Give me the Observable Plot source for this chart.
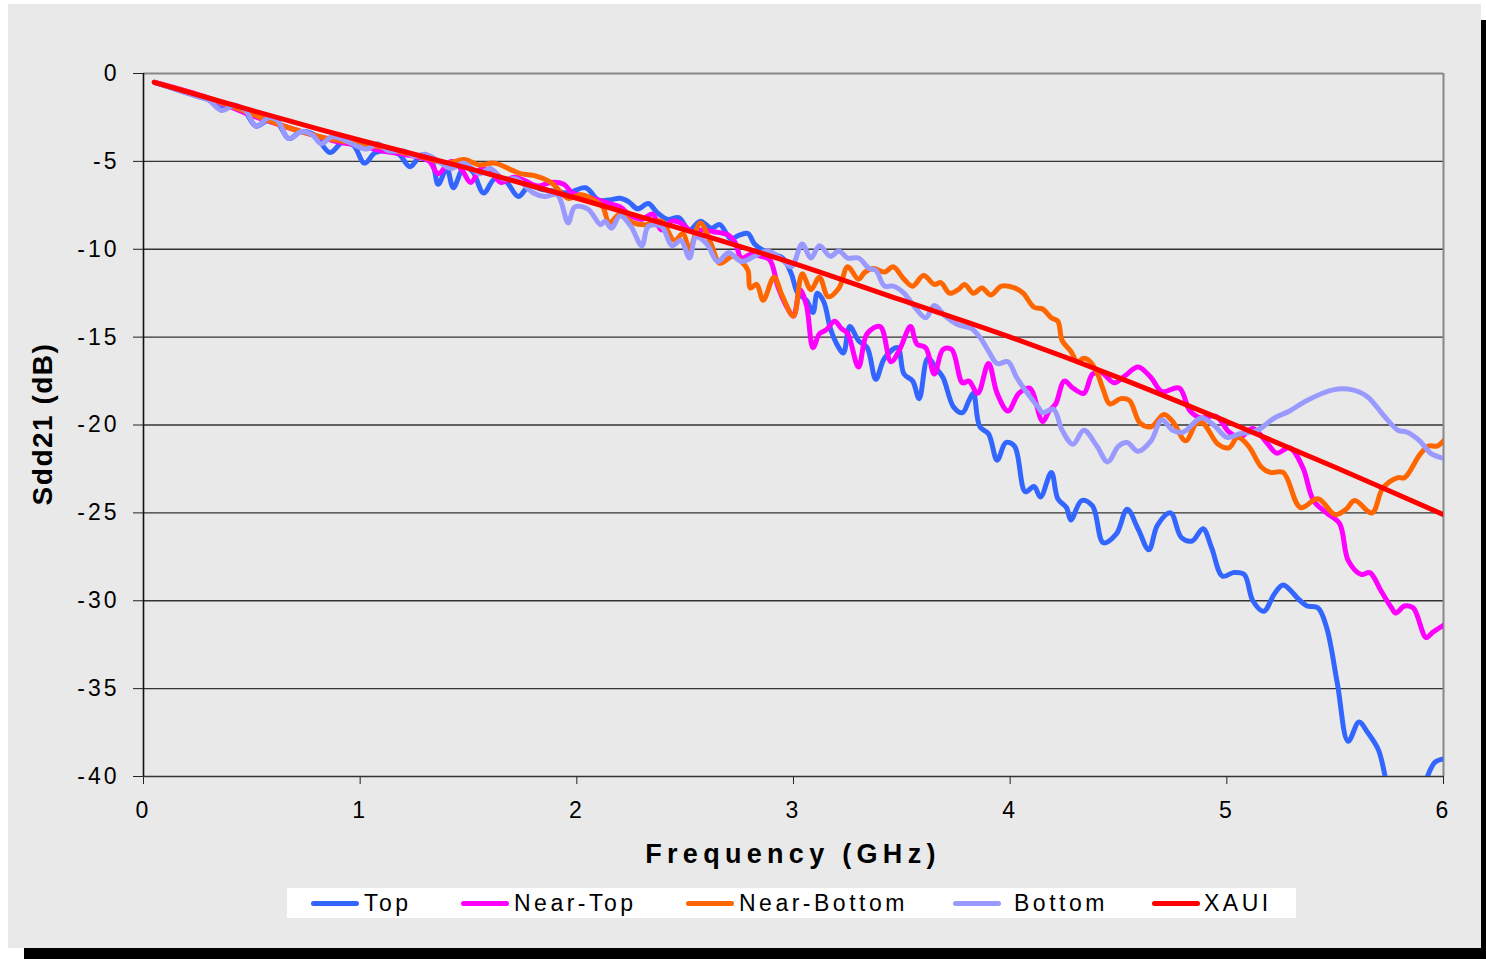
<!DOCTYPE html>
<html><head><meta charset="utf-8">
<script src="https://cdn.jsdelivr.net/npm/d3@7"></script>
<script src="https://cdn.jsdelivr.net/npm/@observablehq/plot@0.6"></script>
<style>
html,body{margin:0;padding:0;background:#fff;width:1486px;height:959px;overflow:hidden;font-family:"Liberation Sans",Arial,sans-serif;}
#panel{position:absolute;left:8px;top:4px;width:1473px;height:944px;background:#e9e9e9;}
#shR{position:absolute;left:1481px;top:20px;width:5px;height:939px;background:#000;}
#shB{position:absolute;left:24px;top:948px;width:1462px;height:11px;background:#000;}
#chart{position:absolute;left:0;top:0;}
#chart svg text{letter-spacing:3px;}
#xtitle{position:absolute;left:493px;width:600px;top:841px;text-align:center;font-weight:bold;font-size:27px;line-height:1;letter-spacing:5.3px;color:#000;}
#ytitle{position:absolute;left:-157px;width:400px;top:410px;height:28px;text-align:center;font-weight:bold;font-size:28px;line-height:1;letter-spacing:1.5px;transform:rotate(-90deg);transform-origin:200px 14px;color:#000;}
#legend{position:absolute;left:287px;top:888px;width:1009px;height:30px;background:#fff;}
.sw{position:absolute;height:5px;border-radius:3px;top:901px;}
.lt{position:absolute;top:892px;font-size:23px;line-height:1;letter-spacing:3.5px;color:#000;white-space:nowrap;}
</style>
</head><body>
<div id="shR"></div><div id="shB"></div>
<div id="panel"></div>
<div id="chart"></div>
<div id="xtitle">Frequency (GHz)</div>
<div id="ytitle">Sdd21 (dB)</div>
<div id="legend"></div>
<div id="legItems"></div>
<script>
// ---- Data ----
const seriesNames = ["Top", "Near-Top", "Near-Bottom", "Bottom", "XAUI"];
const seriesColors = ["#3366ff", "#ff00ff", "#ff6600", "#9999ff", "#ff0000"];
const xTicks = [0, 1, 2, 3, 4, 5, 6];
const yTicks = [0, -5, -10, -15, -20, -25, -30, -35, -40];
const gridTicks = [-5, -10, -15, -20, -25, -30, -35];

const topF = [0.05,0.15,0.25,0.3,0.36,0.42,0.47,0.52,0.58,0.62,0.67,0.73,0.79,0.86,0.92,0.97,1.02,1.07,1.13,1.18,1.23,1.28,1.33,1.36,1.40,1.43,1.48,1.52,1.57,1.62,1.67,1.73,1.78,1.84,1.90,1.96,2.04,2.10,2.15,2.2,2.24,2.28,2.33,2.37,2.42,2.47,2.52,2.57,2.62,2.66,2.71,2.75,2.79,2.82,2.88,2.95,2.99,3.02,3.06,3.09,3.11,3.14,3.17,3.20,3.23,3.26,3.30,3.34,3.38,3.42,3.48,3.51,3.55,3.58,3.62,3.66,3.69,3.74,3.78,3.81,3.83,3.86,3.90,3.94,3.98,4.02,4.07,4.11,4.14,4.19,4.22,4.26,4.28,4.33,4.38,4.43,4.49,4.54,4.59,4.64,4.68,4.74,4.79,4.84,4.89,4.93,4.98,5.03,5.08,5.12,5.17,5.22,5.26,5.33,5.37,5.42,5.46,5.51,5.56,5.61,5.65,5.70,5.74,5.80,5.86,5.92,5.96,6.0];
const topDb = [-0.5,-0.9,-1.3,-1.5,-2.0,-1.8,-2.2,-3.0,-2.6,-2.8,-3.7,-3.3,-3.5,-4.5,-3.9,-4.1,-5.1,-4.5,-4.4,-4.6,-5.3,-4.7,-5.0,-6.3,-5.4,-6.5,-5.3,-5.6,-6.8,-6.0,-6.1,-7.0,-6.4,-6.6,-6.7,-6.8,-6.5,-7.2,-7.2,-7.1,-7.3,-7.7,-7.4,-7.9,-8.3,-8.2,-8.9,-8.4,-8.8,-8.6,-9.4,-9.2,-9.1,-9.7,-10.2,-10.5,-11.4,-12.5,-12.9,-13.6,-12.5,-13.0,-14.5,-15.4,-15.9,-14.4,-15.2,-15.6,-17.4,-16.2,-15.6,-17.1,-17.5,-18.5,-16.2,-16.8,-17.3,-19.0,-19.3,-18.6,-18.2,-20.1,-20.5,-22.0,-21.0,-21.2,-23.8,-23.5,-24.1,-22.7,-24.2,-24.7,-25.4,-24.3,-24.6,-26.7,-26.2,-24.8,-25.9,-27.1,-25.7,-25.0,-26.4,-26.6,-25.9,-27.0,-28.6,-28.4,-28.5,-30.0,-30.6,-29.6,-29.1,-29.9,-30.3,-30.4,-31.5,-34.7,-38.0,-36.9,-37.5,-38.5,-40.5,-43,-43,-40.2,-39.2,-39.0];

const nearTopF = [0.05,0.3,0.5,0.7,0.9,1.0,1.1,1.2,1.28,1.32,1.36,1.42,1.47,1.51,1.56,1.61,1.65,1.71,1.76,1.82,1.88,1.94,1.98,2.04,2.1,2.15,2.2,2.25,2.30,2.35,2.39,2.44,2.48,2.53,2.58,2.63,2.7,2.73,2.76,2.8,2.85,2.89,2.93,2.97,3.0,3.03,3.06,3.09,3.12,3.15,3.19,3.22,3.25,3.30,3.34,3.40,3.45,3.49,3.54,3.57,3.61,3.65,3.69,3.73,3.78,3.81,3.85,3.90,3.94,3.99,4.04,4.09,4.15,4.18,4.21,4.25,4.29,4.34,4.38,4.42,4.48,4.53,4.59,4.65,4.70,4.78,4.83,4.88,4.95,5.01,5.06,5.12,5.19,5.23,5.29,5.35,5.40,5.46,5.52,5.56,5.62,5.66,5.71,5.76,5.78,5.82,5.86,5.92,5.95,6.0];
const nearTopDb = [-0.5,-1.4,-2.4,-3.2,-3.9,-4.1,-4.4,-4.6,-4.8,-5.0,-5.7,-5.0,-5.5,-6.2,-5.4,-5.7,-6.2,-5.9,-6.1,-6.4,-6.2,-6.3,-6.8,-7.0,-7.2,-7.4,-7.6,-8.1,-8.3,-8.0,-8.9,-8.4,-8.5,-9.0,-8.9,-9.0,-9.2,-9.6,-10.5,-10.3,-10.4,-10.6,-12.2,-13.3,-13.8,-12.3,-13.2,-15.6,-14.8,-14.6,-14.1,-14.5,-14.8,-16.7,-14.8,-14.4,-16.4,-15.7,-14.4,-15.4,-15.6,-17.1,-15.7,-15.7,-17.6,-17.5,-18.2,-16.5,-18.2,-19.2,-18.2,-17.9,-19.8,-19.2,-18.8,-17.5,-17.9,-18.2,-17.1,-17.0,-17.6,-17.2,-16.7,-17.3,-18.1,-17.9,-19.2,-19.6,-19.5,-20.4,-20.7,-20.2,-21.1,-21.6,-21.3,-22.4,-24.3,-25.0,-25.6,-27.7,-28.5,-28.4,-29.4,-30.4,-30.7,-30.3,-30.4,-32.1,-31.8,-31.4];

const nearBottomF = [0.05,0.3,0.5,0.58,0.7,0.85,1.0,1.1,1.2,1.3,1.4,1.48,1.55,1.62,1.7,1.74,1.8,1.88,1.96,2.02,2.08,2.12,2.15,2.2,2.26,2.32,2.39,2.45,2.49,2.52,2.57,2.62,2.66,2.72,2.76,2.79,2.80,2.83,2.86,2.91,2.95,3.0,3.04,3.08,3.12,3.16,3.21,3.25,3.30,3.33,3.37,3.42,3.46,3.51,3.55,3.60,3.65,3.68,3.72,3.76,3.79,3.83,3.87,3.91,3.96,4.02,4.06,4.11,4.15,4.19,4.22,4.24,4.28,4.31,4.34,4.37,4.40,4.43,4.46,4.51,4.55,4.60,4.65,4.71,4.75,4.81,4.86,4.89,4.96,5.01,5.05,5.10,5.16,5.20,5.26,5.34,5.42,5.50,5.55,5.59,5.67,5.72,5.79,5.82,5.89,5.93,5.97,6.0];
const nearBottomDb = [-0.5,-1.4,-2.3,-2.7,-3.2,-3.7,-4.0,-4.2,-4.5,-4.8,-5.1,-4.9,-5.2,-5.1,-5.5,-5.7,-5.8,-6.2,-7.1,-6.9,-7.2,-7.6,-8.5,-8.0,-8.5,-8.6,-8.4,-9.5,-9.1,-10.0,-8.5,-9.7,-10.8,-10.4,-10.7,-11.2,-12.2,-12.0,-12.9,-11.6,-12.7,-13.8,-11.4,-12.3,-11.6,-12.7,-12.2,-11.0,-11.7,-11.3,-11.1,-11.3,-11.0,-11.7,-12.1,-11.5,-12.0,-11.9,-12.5,-12.3,-12.0,-12.5,-12.2,-12.6,-12.1,-12.2,-12.5,-13.3,-13.4,-13.9,-14.1,-15.2,-15.8,-16.4,-16.2,-16.4,-17.0,-18.0,-18.8,-18.5,-18.6,-19.9,-20.1,-19.4,-19.8,-20.9,-19.9,-19.9,-21.1,-21.3,-20.7,-21.2,-22.4,-22.7,-22.7,-24.7,-24.2,-25.1,-24.8,-24.3,-25.0,-23.6,-23.0,-23.0,-21.7,-21.2,-21.2,-20.9];

const bottomF = [0.05,0.15,0.25,0.3,0.36,0.42,0.47,0.52,0.58,0.62,0.67,0.73,0.78,0.82,0.87,0.93,0.98,1.03,1.08,1.13,1.2,1.25,1.3,1.35,1.42,1.48,1.55,1.6,1.66,1.72,1.8,1.85,1.91,1.96,1.99,2.05,2.11,2.13,2.16,2.2,2.25,2.3,2.33,2.39,2.44,2.48,2.52,2.55,2.6,2.65,2.7,2.76,2.82,2.88,2.94,2.99,3.04,3.08,3.12,3.17,3.21,3.25,3.30,3.35,3.38,3.42,3.46,3.51,3.56,3.61,3.65,3.70,3.76,3.82,3.86,3.90,3.94,3.99,4.03,4.08,4.13,4.15,4.20,4.24,4.29,4.34,4.40,4.45,4.50,4.54,4.59,4.65,4.70,4.75,4.80,4.88,4.94,5.00,5.06,5.14,5.22,5.29,5.37,5.49,5.58,5.65,5.72,5.79,5.83,5.89,5.94,6.0];
const bottomDb = [-0.5,-0.9,-1.3,-1.5,-2.1,-1.8,-2.1,-3.0,-2.5,-2.7,-3.7,-3.3,-3.5,-4.0,-3.6,-3.8,-4.1,-4.3,-4.0,-4.4,-4.4,-4.7,-4.6,-4.9,-5.4,-5.1,-5.7,-5.4,-6.0,-6.0,-6.8,-7.0,-6.9,-8.5,-7.6,-7.7,-8.6,-8.4,-8.8,-8.1,-8.7,-9.8,-8.7,-8.7,-9.8,-9.5,-10.5,-9.3,-9.7,-10.7,-10.2,-10.7,-10.4,-10.1,-10.5,-11.0,-9.7,-10.5,-9.8,-10.4,-10.1,-10.5,-10.5,-11.1,-11.2,-12.1,-12.1,-12.5,-13.3,-13.9,-13.2,-13.8,-14.3,-14.5,-15.0,-15.8,-16.5,-16.4,-17.3,-18.2,-19.0,-19.3,-19.1,-20.3,-21.1,-20.3,-21.2,-22.1,-21.2,-21.0,-21.5,-20.9,-19.7,-20.3,-20.4,-19.6,-20.0,-20.7,-20.5,-20.3,-19.6,-19.2,-18.6,-18.0,-18.0,-18.4,-19.4,-20.3,-20.4,-20.9,-21.6,-21.9];

const xauiF = [0.05, 0.5, 1, 1.5, 2, 2.5, 3, 3.5, 4, 4.5, 5, 5.5, 6];
const xauiDb = [-0.5, -2.1, -3.8, -5.4, -7.1, -8.9, -10.8, -12.9, -15.0, -17.3, -19.8, -22.4, -25.1];

// ---- Build table ----
const seriesF = [topF, nearTopF, nearBottomF, bottomF, xauiF];
const seriesDb = [topDb, nearTopDb, nearBottomDb, bottomDb, xauiDb];
const rows = [];
seriesNames.forEach((name, s) => {
  seriesF[s].forEach((f, i) => rows.push({series: name, f, db: seriesDb[s][i]}));
});

const chart = Plot.plot({
  width: 1486, height: 830,
  marginLeft: 143, marginRight: 43, marginTop: 73, marginBottom: 54,
  x: {domain: [0, 6], axis: null},
  y: {domain: [-40, 0], axis: null},
  color: {domain: seriesNames, range: seriesColors},
  style: {background: "transparent", fontFamily: "'Liberation Sans', Arial, sans-serif", fontSize: "23px", color: "#000", overflow: "visible"},
  marks: [
    Plot.gridY({ticks: gridTicks, stroke: "#333", strokeOpacity: 1, strokeWidth: 1.3}),
    Plot.ruleY([0], {stroke: "#888", strokeWidth: 2}),
    Plot.ruleX([6], {stroke: "#888", strokeWidth: 2}),
    Plot.axisY({ticks: yTicks, tickSize: 10, tickPadding: 14, tickFormat: d => String(d), label: null, stroke: "#222", fontSize: 23}),
    Plot.axisX({ticks: xTicks, tickSize: 8, tickPadding: 17, tickFormat: d => String(d), label: null, stroke: "#222", fontSize: 23}),
    Plot.ruleX([0], {stroke: "#111", strokeWidth: 1.6}),
    Plot.ruleY([-40], {stroke: "#333", strokeWidth: 1.6}),
    Plot.line(rows, {x: "f", y: "db", z: "series", stroke: "series", strokeWidth: 5, curve: "catmull-rom", strokeLinejoin: "round", strokeLinecap: "round", clip: true})
  ]
});
document.getElementById("chart").appendChild(chart);

// ---- Legend ----
const legSwX = [311, 461, 686, 953, 1152];
const legTxtX = [364, 514, 739, 1014, 1204];
const li = document.getElementById("legItems");
seriesNames.forEach((name, i) => {
  const sw = document.createElement("div");
  sw.className = "sw";
  sw.style.left = legSwX[i] + "px";
  sw.style.width = "48px";
  sw.style.background = seriesColors[i];
  li.appendChild(sw);
  const t = document.createElement("div");
  t.className = "lt";
  t.style.left = legTxtX[i] + "px";
  t.textContent = name;
  li.appendChild(t);
});
</script>
</body></html>
